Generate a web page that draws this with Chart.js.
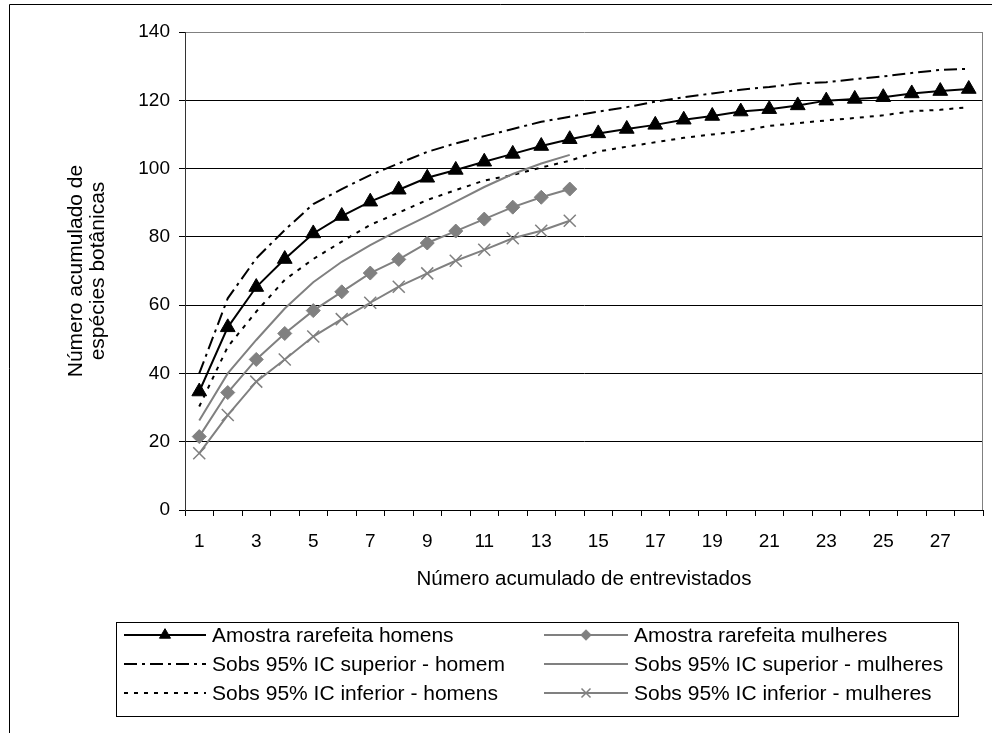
<!DOCTYPE html>
<html><head><meta charset="utf-8">
<script src="https://cdn.jsdelivr.net/npm/chart.js@4/dist/chart.umd.min.js"></script>
<style>html,body{margin:0;padding:0;background:#fff;}canvas{display:block;}</style>
</head><body>
<canvas id="c" width="992" height="733"></canvas>
<script>
const categories = ["1","2","3","4","5","6","7","8","9","10","11","12","13","14","15","16","17","18","19","20","21","22","23","24","25","26","27","28"];
const xTickLabels = ["1","3","5","7","9","11","13","15","17","19","21","23","25","27"];

const seriesNames = [
  "Amostra rarefeita homens",
  "Amostra rarefeita mulheres",
  "Sobs 95% IC superior - homem",
  "Sobs 95% IC superior - mulheres",
  "Sobs 95% IC inferior - homens",
  "Sobs 95% IC inferior - mulheres"
];

const homens = [34.7, 53.5, 65.3, 73.5, 81.0, 86.1, 90.3, 93.8, 97.3, 99.6, 102.0, 104.3, 106.6, 108.6, 110.3, 111.6, 112.8, 114.3, 115.4, 116.7, 117.4, 118.5, 119.9, 120.4, 120.9, 122.0, 122.7, 123.3];
const superiorHomem = [40.0, 62.0, 73.7, 82.0, 89.6, 94.0, 98.1, 101.5, 104.9, 107.4, 109.5, 111.6, 113.7, 115.2, 116.7, 118.0, 119.6, 120.9, 122.0, 123.1, 123.9, 124.9, 125.3, 126.2, 127.0, 128.0, 128.9, 129.2];
const inferiorHomens = [30.3, 47.8, 58.1, 67.4, 73.5, 78.6, 83.5, 87.1, 90.8, 93.7, 96.5, 98.1, 100.3, 102.3, 105.0, 106.4, 107.7, 109.0, 110.0, 110.9, 112.5, 113.3, 114.1, 114.8, 115.6, 116.8, 117.2, 118.0];
const mulheres = [21.5, 34.4, 44.1, 51.7, 58.4, 63.9, 69.4, 73.4, 78.2, 81.7, 85.2, 88.7, 91.6, 94.0];
const superiorMulheres = [26.2, 40.0, 49.8, 59.0, 66.7, 72.7, 77.6, 82.0, 86.1, 90.3, 94.6, 98.4, 101.5, 104.0];
const inferiorMulheres = [16.6, 27.8, 37.6, 44.1, 50.8, 55.9, 60.7, 65.4, 69.3, 73.0, 76.2, 79.6, 81.8, 84.7];

const yMin = 0, yMax = 140, yStep = 20;

const FONT = '"Liberation Sans", Arial, sans-serif';
const GRAY = '#808080';
Chart.defaults.font.family = FONT;
Chart.defaults.color = '#000';

const framePlugin = {
  id: 'frame',
  beforeDatasetsDraw(chart) {
    const ctx = chart.ctx, a = chart.chartArea;
    ctx.save();
    ctx.strokeStyle = GRAY; ctx.lineWidth = 1;
    ctx.beginPath();
    const rx = Math.round(a.right) - 0.5;
    ctx.moveTo(rx, Math.round(a.top) + 0.5);
    ctx.lineTo(rx, Math.round(a.bottom));
    ctx.stroke();
    ctx.restore();
  },
  afterDraw(chart) {
    const ctx = chart.ctx;
    ctx.save();
    ctx.strokeStyle = '#000'; ctx.lineWidth = 1;
    ctx.beginPath();
    ctx.moveTo(9.5, 733); ctx.lineTo(9.5, 4.5); ctx.lineTo(992, 4.5);
    ctx.stroke();
    ctx.restore();
  }
};

const legendPlugin = {
  id: 'customLegend',
  afterDraw(chart) {
    const ctx = chart.ctx;
    ctx.save();
    ctx.strokeStyle = '#000'; ctx.lineWidth = 1;
    ctx.strokeRect(116.5, 622.5, 842, 94);
    const cols = [{x0: 124, x1: 206, tx: 212}, {x0: 544, x1: 628, tx: 634}];
    const rows = [635, 664, 693];
    chart.data.datasets.forEach((ds, k) => {
      const col = cols[k % 2], y = rows[Math.floor(k / 2)];
      ctx.save();
      ctx.strokeStyle = ds.borderColor; ctx.lineWidth = ds.borderWidth;
      ctx.setLineDash(ds.borderDash || []);
      ctx.beginPath(); ctx.moveTo(col.x0, y); ctx.lineTo(col.x1, y); ctx.stroke();
      ctx.setLineDash([]);
      if (ds.pointRadius > 0) {
        ctx.fillStyle = ds.pointBackgroundColor;
        ctx.strokeStyle = ds.pointBorderColor;
        ctx.lineWidth = ds.pointBorderWidth;
        Chart.helpers.drawPoint(ctx, {pointStyle: ds.pointStyle, radius: ds.pointRadius * 0.75, borderWidth: ds.pointBorderWidth, rotation: 0}, (col.x0 + col.x1) / 2, y);
      }
      ctx.fillStyle = '#000';
      ctx.font = '21px ' + FONT;
      ctx.textBaseline = 'middle'; ctx.textAlign = 'left';
      ctx.fillText(ds.label, col.tx, y + 1);
      ctx.restore();
    });
    ctx.restore();
  }
};

const chart = new Chart(document.getElementById('c'), {
  type: 'line',
  data: {
    labels: categories,
    datasets: [
      {label: seriesNames[0], data: homens, borderColor: '#000', borderWidth: 2, pointStyle: 'triangle', pointRadius: 8.5, pointBackgroundColor: '#000', pointBorderColor: '#000', pointBorderWidth: 1},
      {label: seriesNames[1], data: mulheres, borderColor: GRAY, borderWidth: 2, pointStyle: 'rectRot', pointRadius: 7, pointBackgroundColor: GRAY, pointBorderColor: GRAY, pointBorderWidth: 1},
      {label: seriesNames[2], data: superiorHomem, borderColor: '#000', borderWidth: 2, borderDash: [13, 5, 3, 5], pointRadius: 0},
      {label: seriesNames[3], data: superiorMulheres, borderColor: GRAY, borderWidth: 2, pointRadius: 0},
      {label: seriesNames[4], data: inferiorHomens, borderColor: '#000', borderWidth: 2, borderDash: [4, 6], pointRadius: 0},
      {label: seriesNames[5], data: inferiorMulheres, borderColor: GRAY, borderWidth: 2, pointStyle: 'crossRot', pointRadius: 8.5, pointBackgroundColor: GRAY, pointBorderColor: GRAY, pointBorderWidth: 1.5}
    ]
  },
  options: {
    responsive: false,
    animation: false,
    devicePixelRatio: 1,
    layout: {padding: {left: 0, top: 32, right: 9, bottom: 0}, autoPadding: false},
    elements: {line: {tension: 0, fill: false}, point: {hoverRadius: 8}},
    plugins: {legend: {display: false}, tooltip: {enabled: false}},
    scales: {
      x: {
        type: 'category',
        offset: true,
        grid: {offset: true, drawOnChartArea: false, drawTicks: true, tickLength: 6, color: '#000', tickColor: '#000'},
        border: {display: true, color: '#000', width: 1},
        ticks: {
          autoSkip: false, maxRotation: 0, minRotation: 0, padding: 14,
          font: {size: 19},
          callback: function(value) { const l = this.getLabelForValue(value); return xTickLabels.includes(l) ? l : ''; }
        },
        title: {display: true, text: 'Número acumulado de entrevistados', font: {size: 20.5}, padding: {top: 0, bottom: 141}},
        afterFit: (s) => { s.height = 223; }
      },
      y: {
        min: yMin, max: yMax,
        grid: {color: (c) => c.tick && c.tick.value === yMax ? GRAY : '#000', tickColor: '#000', tickLength: 6, lineWidth: 1},
        border: {display: true, color: '#333', width: 1},
        ticks: {stepSize: yStep, padding: 9, font: {size: 19}},
        title: {display: true, text: ['Número acumulado de', 'espécies botânicas'], font: {size: 21, lineHeight: 1.05}, padding: {top: 65, bottom: 0}},
        afterFit: (s) => { s.width = 185; }
      }
    }
  },
  plugins: [framePlugin, legendPlugin]
});
</script>
</body></html>
